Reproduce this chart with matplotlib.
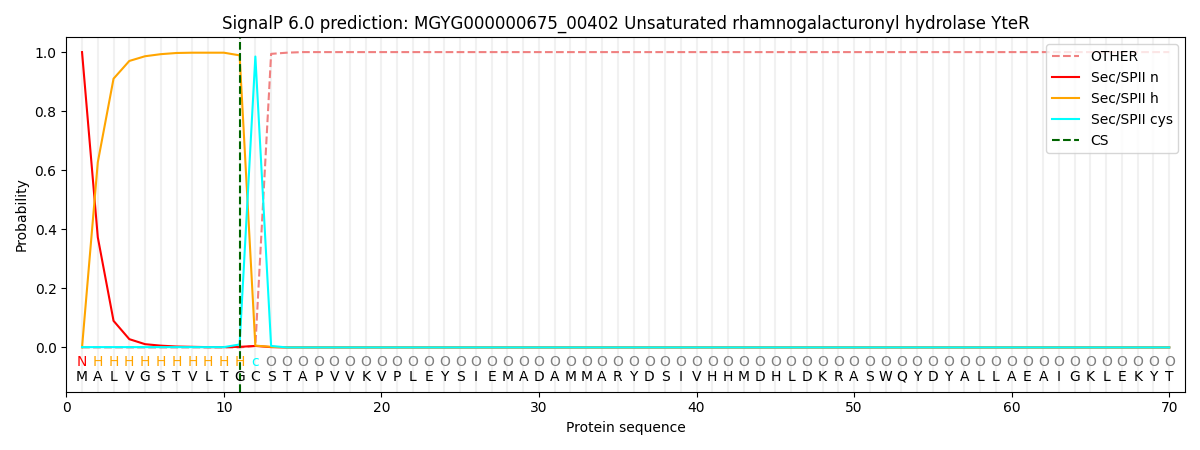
import matplotlib
matplotlib.use('Agg')
import matplotlib.pyplot as plt

seq = list("MALVGSTVLTGCSTAPVVKVPLEYSIEMADAMMARYDSIVHHMDHLDKRASWQYDYALLAEAIGKLEKYT")
labels = ['N'] + ['H'] * 10 + ['c'] + ['O'] * 58
label_colors = {'N': 'red', 'H': 'orange', 'c': 'cyan', 'O': 'grey'}

# probabilities, positions 1..13, then flat
sp_n_head = [1.0, 0.373, 0.09, 0.028, 0.011, 0.006, 0.003, 0.002, 0.001, 0.001, 0.002, 0.005, 0.001]
sp_h_head = [0.0, 0.627, 0.91, 0.97, 0.986, 0.993, 0.997, 0.998, 0.998, 0.998, 0.989, 0.006, 0.002]
sp_c_head = [0.001, 0.001, 0.001, 0.001, 0.001, 0.001, 0.001, 0.001, 0.001, 0.001, 0.01, 0.985, 0.005]
other_head = [0.0, 0.0, 0.0, 0.0, 0.0, 0.0, 0.0, 0.0, 0.0, 0.0, 0.0, 0.005, 0.994]

n = len(seq)
tail = n - len(sp_n_head)
sp_n = sp_n_head + [0.0] * tail
sp_h = sp_h_head + [0.0] * tail
sp_c = sp_c_head + [0.0] * tail
other = other_head + [0.998] + [1.0] * (tail - 1)
pos = list(range(1, n + 1))
cs_pos = 11

fig, ax = plt.subplots(figsize=(12, 4.5), dpi=100)
for p in pos:
    ax.axvline(p, color='lightgrey', alpha=0.3, lw=1.5, zorder=0)

ax.plot(pos, other, color='lightcoral', ls='--', label='OTHER')
ax.plot(pos, sp_n, color='red', label='Sec/SPII n')
ax.plot(pos, sp_h, color='orange', label='Sec/SPII h')
ax.plot(pos, sp_c, color='cyan', label='Sec/SPII cys')
ax.axvline(cs_pos, color='darkgreen', ls='--', label='CS')

for p, s, l in zip(pos, seq, labels):
    ax.text(p, -0.05, l, color=label_colors[l], ha='center', va='center', fontsize=10)
    ax.text(p, -0.1, s, color='black', ha='center', va='center', fontsize=10)

ax.set_xlim(0, 71)
ax.set_ylim(-0.15, 1.05)
ax.set_yticks([0.0, 0.2, 0.4, 0.6, 0.8, 1.0])
ax.set_xlabel('Protein sequence')
ax.set_ylabel('Probability')
ax.set_title('SignalP 6.0 prediction: MGYG000000675_00402 Unsaturated rhamnogalacturonyl hydrolase YteR')
ax.legend(loc='upper right')
plt.tight_layout()
plt.savefig('out.png')
